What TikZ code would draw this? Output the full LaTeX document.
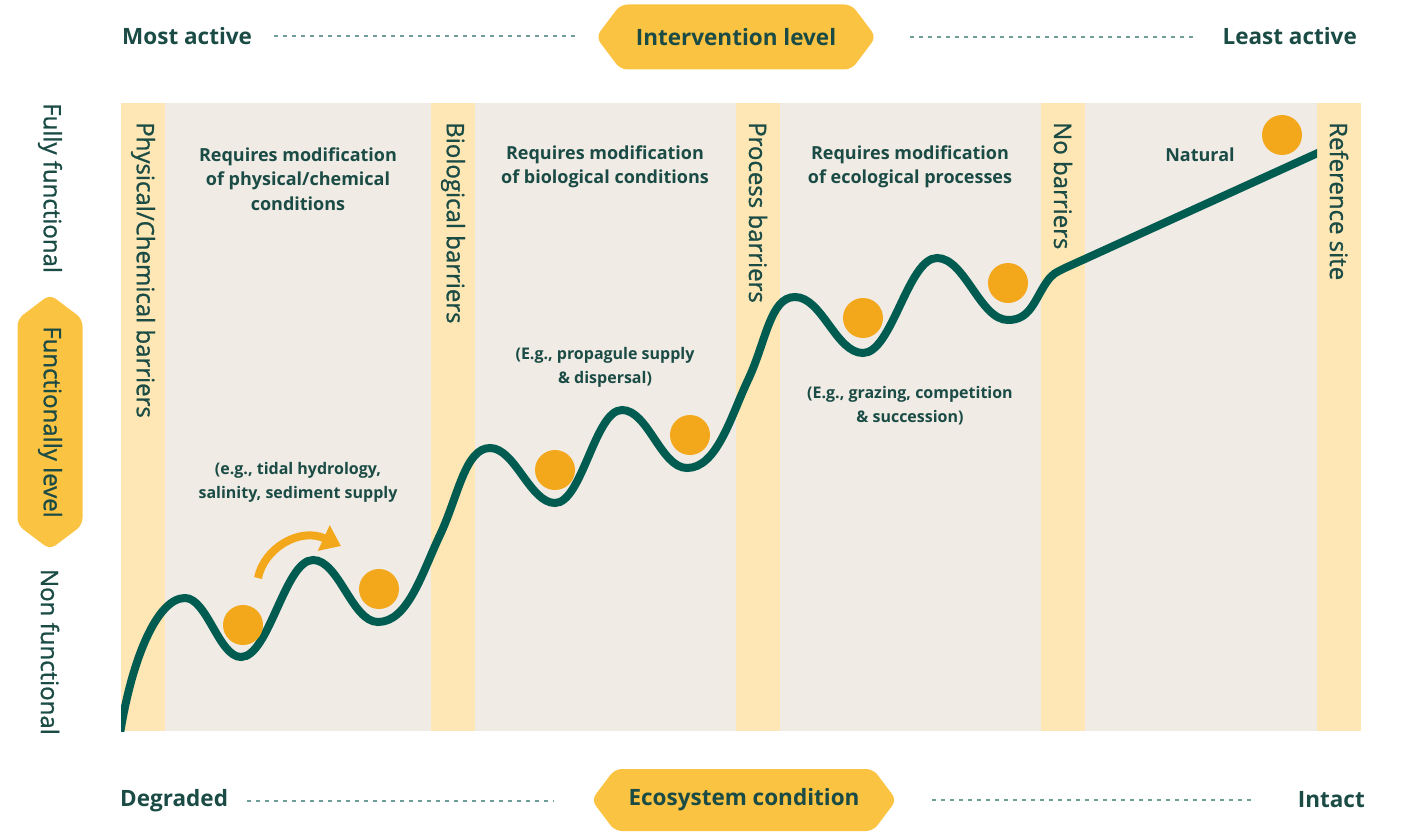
\documentclass[tikz,border=0pt]{standalone}
\usepackage{fontspec}
\setmainfont{Open Sans}
\newfontfamily\medfont{Open Sans}[FakeBold=1]
\usetikzlibrary{shapes.symbols,arrows.meta}
\definecolor{ink}{HTML}{1B4B45}
\definecolor{panel}{HTML}{F0EBE5}
\definecolor{strip}{HTML}{FEE7B4}
\definecolor{hexyellow}{HTML}{FBC342}
\definecolor{ballorange}{HTML}{F2A81A}
\definecolor{curvegreen}{HTML}{005B50}
\definecolor{dashgreen}{HTML}{6F9E98}
\tikzset{
  hexlabel/.style={signal, signal to=west and east, signal pointer angle=106,
    fill=hexyellow, rounded corners=7pt, inner sep=0pt,
    font=\bfseries\fontsize{22.5}{27}\selectfont, text=ink},
  axislabel/.style={font=\bfseries\fontsize{22.5}{27}\selectfont, text=ink, inner sep=0pt},
  sidelabel/.style={rotate=-90, font=\medfont\fontsize{24}{28}\selectfont, text=ink, inner sep=0pt},
  barrierlabel/.style={rotate=-90, anchor=west, font=\medfont\fontsize{24}{28}\selectfont, text=ink, inner sep=0pt},
  zonelabel/.style={align=center, font=\bfseries\fontsize{18}{24.5}\selectfont, text=ink, inner sep=0pt},
  examplelabel/.style={align=center, font=\bfseries\fontsize{16}{24}\selectfont, text=ink, inner sep=0pt},
  dashline/.style={draw=dashgreen, line width=1.2pt, dash pattern=on 4pt off 5pt},
  ball/.style={circle, fill=ballorange, minimum size=40pt, inner sep=0pt},
  curve/.style={draw=curvegreen, line width=8pt},
  jumparrow/.style={draw=ballorange, line width=8pt, -{Triangle[length=19pt,width=27pt]}},
}
\begin{document}
\begin{tikzpicture}[x=1pt,y=-1pt]
\useasboundingbox (0,0) rectangle (1405,832);
%% panel and barrier strips
\fill[panel] (121,103) rectangle (1361,731);
\foreach \sx in {121,431,736,1041,1317}
  \fill[strip] (\sx,103) rectangle (\sx+44,731);
%% top axis
\node (mostactive) at (122,36) [axislabel,anchor=west] {Most active};
\node (intervention) at (736,37) [hexlabel,minimum width=280pt,minimum height=65pt] {Intervention level};
\node (leastactive) at (1357,36) [axislabel,anchor=east] {Least active};
\draw [dashline,shorten <=22pt,shorten >=21pt] (mostactive.east) -- (mostactive.east -| intervention.west);
\draw [dashline,shorten <=34pt,shorten >=25pt] (intervention.east) -- (intervention.east -| leastactive.west);
%% bottom axis
\node (degraded) at (120,801) [axislabel,anchor=west] {Degraded};
\node (condition) at (744,800) [hexlabel,minimum width=305pt,minimum height=62pt] {Ecosystem condition};
\node (intact) at (1365,800) [axislabel,anchor=east] {Intact};
\draw [dashline,shorten <=19pt,shorten >=37pt] (degraded.east) -- (degraded.east -| condition.west);
\draw [dashline,shorten <=35pt,shorten >=45pt] (condition.east) -- (condition.east -| intact.west);
%% side axis
\node (fully) at (50,103) [sidelabel,anchor=west] {Fully functional};
\node (functionality) at (50,422) [hexlabel,rotate=-90,minimum width=255pt,minimum height=65pt,font=\medfont\fontsize{24}{28}\selectfont] {Functionally level};
\node (nonfunc) at (50,735) [sidelabel,anchor=east] {Non functional};
%% barrier labels
\node (physbar) at (143,122) [barrierlabel] {Physical/Chemical barriers};
\node (biobar) at (453,122) [barrierlabel] {Biological barriers};
\node (procbar) at (758,122) [barrierlabel] {Process barriers};
\node (nobar) at (1063,122) [barrierlabel] {No barriers};
\node (refsite) at (1339,122) [barrierlabel] {Reference site};
%% zone labels
\node (physzone) at (298,179) [zonelabel] {Requires modification\\of physical/chemical\\conditions};
\node (biozone) at (605,167) [zonelabel] {Requires modification\\of biological conditions};
\node (ecozone) at (910,167) [zonelabel] {Requires modification\\of ecological processes};
\node (natural) at (1200,155) [zonelabel] {Natural};
\node (physex) at (298,482) [examplelabel] {(e.g., tidal hydrology,\\salinity, sediment supply};
\node (bioex) at (605,367) [examplelabel] {(E.g., propagule supply\\\& dispersal)};
\node (ecoex) at (910,406) [examplelabel] {(E.g., grazing, competition\\\& succession)};
%% landscape curve
\begin{scope}
\clip (121,103) rectangle (1317,731);
\draw [curve] (119,740) .. controls +(12,-80) and +(-28,0) .. (185,598)
  .. controls +(22,0) and +(-22,0) .. (241,657)
  .. controls +(28,0) and +(-28,0) .. (313,560)
  .. controls +(26,0) and +(-26,0) .. (378,622)
  .. controls +(30,0) and +(-18,38) .. (440,535)
  .. controls +(18,-38) and +(-25,0) .. (490,448)
  .. controls +(25,0) and +(-25,0) .. (555,503)
  .. controls +(27,0) and +(-27,0) .. (622,410)
  .. controls +(26,0) and +(-26,0) .. (687,468)
  .. controls +(30,0) and +(-17,36) .. (748,380)
  .. controls +(18,-38) and +(-25,0) .. (795,297)
  .. controls +(27,0) and +(-27,0) .. (863,353)
  .. controls +(29,0) and +(-29,0) .. (937,258)
  .. controls +(28,0) and +(-28,0) .. (1008,320)
  .. controls +(22,0) and +(-12,18) .. (1046,283)
  .. controls +(6,-9) and +(-10,5) .. (1065,268)
  -- (1320,152);
\end{scope}
%% balls
\node (ball1) at (243,625) [ball] {};
\node (ball2) at (379,589) [ball] {};
\node (ball3) at (555,470) [ball] {};
\node (ball4) at (690,435) [ball] {};
\node (ball5) at (863,318) [ball] {};
\node (ball6) at (1008,283) [ball] {};
\node (ball7) at (1282,135) [ball] {};
%% jump arrow
\coordinate (jumpstart) at (258,578);
\coordinate (jumpend) at (341,546);
\draw [jumparrow] (jumpstart) .. controls (264,548) and (300,527) .. (jumpend);
\end{tikzpicture}
\end{document}
